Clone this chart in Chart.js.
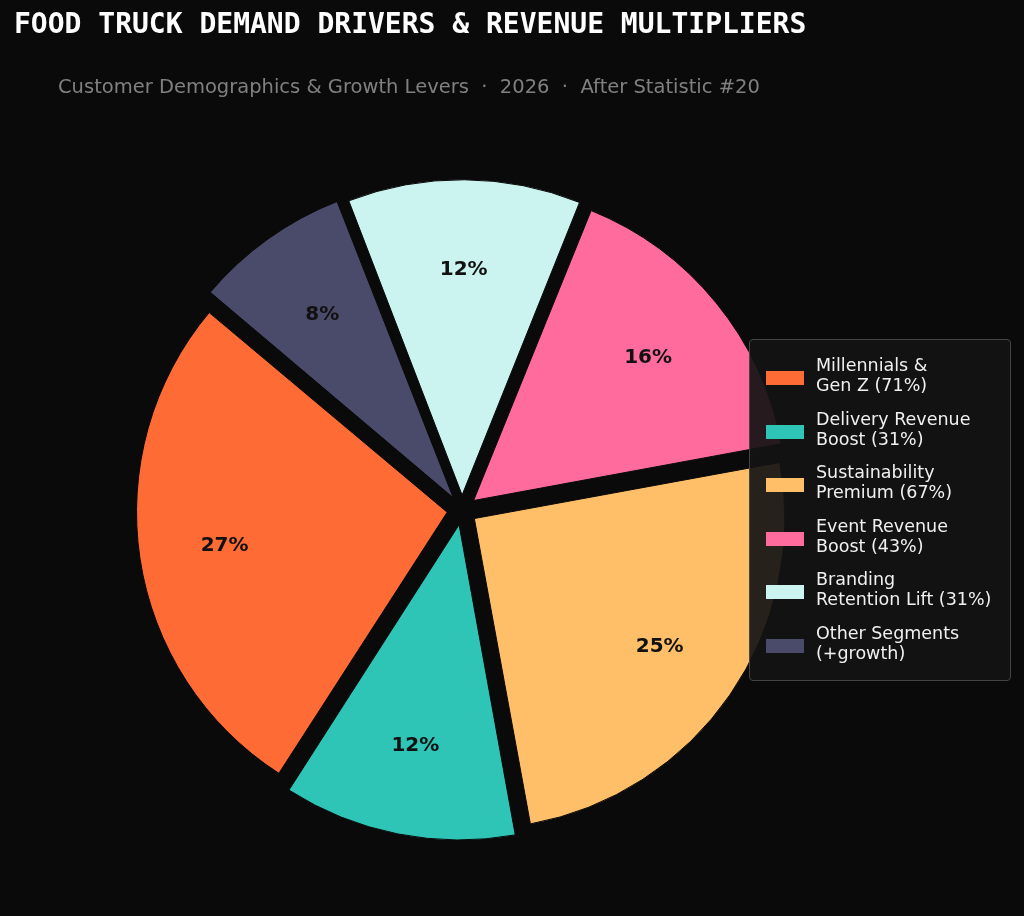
<!DOCTYPE html>
<html><head><meta charset="utf-8">
<script src="https://cdn.jsdelivr.net/npm/chart.js@4"></script>
<style>
html,body{margin:0;padding:0;background:#0a0a0a;width:1024px;height:916px;overflow:hidden;font-family:"DejaVu Sans",sans-serif}
#wrap{position:relative;width:1024px;height:916px}
#title{position:absolute;left:14px;top:7px;color:#fff;font:bold 28px "DejaVu Sans Mono",monospace;white-space:nowrap}
#sub{position:absolute;left:58px;top:75px;color:#808080;font:19.5px "DejaVu Sans",sans-serif;white-space:nowrap}
#legend{position:absolute;left:749px;top:339px;width:262px;height:342px;background:rgba(20,20,20,0.92);border:1.5px solid #444;border-radius:4px;box-sizing:border-box;padding-top:15px}
.item{display:flex;align-items:flex-start;height:53.5px}
.sw{width:38px;height:14px;margin:16px 12px 0 16px;flex:none}
.tx{color:#f0f0f0;font:17.5px "DejaVu Sans",sans-serif;line-height:20px}
canvas{position:absolute;left:0;top:0}
</style></head><body>
<div id="wrap">
<canvas id="c" width="1024" height="916"></canvas>
<div id="title">FOOD TRUCK DEMAND DRIVERS &amp; REVENUE MULTIPLIERS</div>
<div id="sub">Customer Demographics &amp; Growth Levers &nbsp;·&nbsp; 2026 &nbsp;·&nbsp; After Statistic #20</div>
<div id="legend"></div>
</div>
<script>
const categories = ["Millennials &\nGen Z (71%)", "Delivery Revenue\nBoost (31%)", "Sustainability\nPremium (67%)", "Event Revenue\nBoost (43%)", "Branding\nRetention Lift (31%)", "Other Segments\n(+growth)"];
const values = [27, 12, 25, 16, 12, 8];
const colors = ["#FF6B35", "#2EC4B6", "#FFBF69", "#FF6B9D", "#CBF3F0", "#4A4A6A"];

const lg = document.getElementById('legend');
categories.forEach((c,i)=>{
  const d=document.createElement('div');d.className='item';
  d.innerHTML='<div class="sw" style="background:'+colors[i]+'"></div><div class="tx">'+c.replace(/&/g,'&amp;').replace('\n','<br>')+'</div>';
  lg.appendChild(d);
});

const rv = a => a.slice().reverse();
const total = values.reduce((a,b)=>a+b,0);
const pctPlugin = {
  id:'pct',
  afterDatasetsDraw(chart){
    const ctx=chart.ctx;
    const meta=chart.getDatasetMeta(0);
    ctx.save();
    ctx.font='bold 20px "DejaVu Sans", sans-serif';
    ctx.fillStyle='#111';ctx.textAlign='center';ctx.textBaseline='middle';
    meta.data.forEach((arc,i)=>{
      const p=arc.getProps(['x','y','startAngle','endAngle','outerRadius'],true);
      const a=(p.startAngle+p.endAngle)/2;
      const r=p.outerRadius*0.725+15;
      const v=chart.data.datasets[0].data[i];
      ctx.fillText(Math.round(v/total*100)+'%', p.x+Math.cos(a)*r, p.y+Math.sin(a)*r);
    });
    ctx.restore();
  }
};
new Chart(document.getElementById('c'),{
  type:'pie',
  data:{labels:rv(categories),datasets:[{data:rv(values),backgroundColor:rv(colors),borderColor:'#0a0a0a',borderWidth:1,offset:60,hoverOffset:60}]},
  options:{
    responsive:false,animation:false,rotation:-50,
    layout:{padding:{left:121,top:169,right:221,bottom:65}},
    plugins:{legend:{display:false},tooltip:{enabled:false}}
  },
  plugins:[pctPlugin]
});
</script>
</body></html>
